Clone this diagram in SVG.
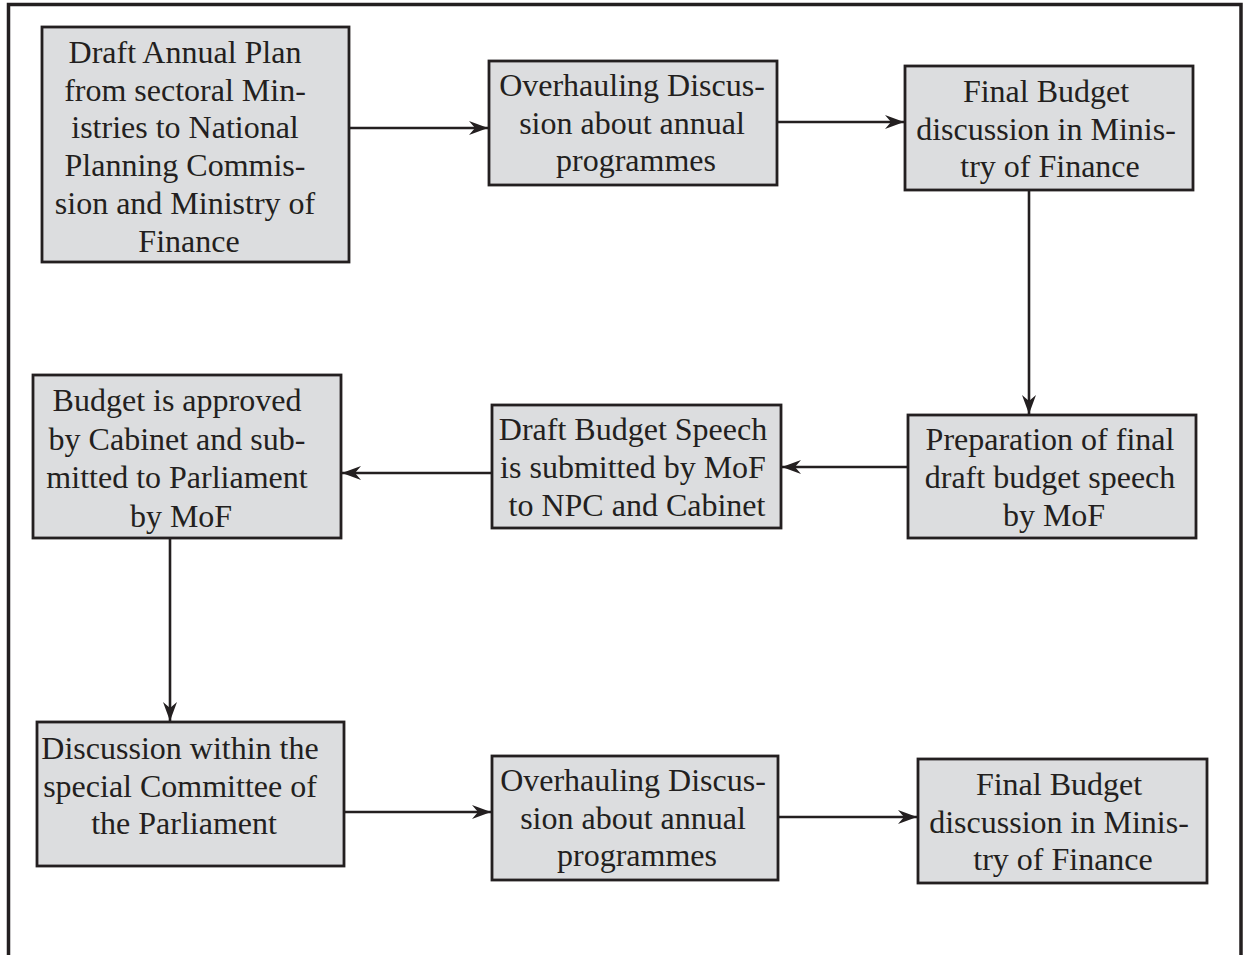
<svg xmlns="http://www.w3.org/2000/svg" width="1243" height="955" viewBox="0 0 1243 955">
  <style>
    .box { fill: #dcdddf; stroke: #231f20; stroke-width: 2.8; }
    .lbl { font-family: "Liberation Serif", "Times New Roman", serif; font-size: 32px; fill: #231f20; text-anchor: middle; }
    .edge { fill: none; stroke: #231f20; stroke-width: 2.6; marker-end: url(#arrow); }
  </style>
  <defs>
    <marker id="arrow" markerUnits="userSpaceOnUse" markerWidth="22" markerHeight="18" viewBox="-20 -9 22 18" refX="0" refY="0" orient="auto">
      <path d="M0,0 L-19,-7 L-13,0 L-19,7 Z" fill="#231f20"/>
    </marker>
  </defs>

  <rect width="1243" height="955" fill="#ffffff"/>
  <!-- outer frame, open at the bottom -->
  <path d="M8.5,955 V4.5 H1241 V955" fill="none" stroke="#231f20" stroke-width="3.5"/>

  <g id="connectors">
    <path class="edge" d="M349,128 H488"/>
    <path class="edge" d="M777,122 H904"/>
    <path class="edge" d="M1029,190 V414"/>
    <path class="edge" d="M908,467 H782"/>
    <path class="edge" d="M492,473 H342"/>
    <path class="edge" d="M170,538 V721"/>
    <path class="edge" d="M344,812 H491"/>
    <path class="edge" d="M778,817 H917"/>
  </g>

  <g id="draft-annual-plan">
    <rect class="box" x="42" y="27" width="307" height="235"/>
    <text class="lbl">
      <tspan x="189" y="63">Draft Annual Plan</tspan>
      <tspan x="189" y="101">from sectoral Min-</tspan>
      <tspan x="189" y="138">istries to National</tspan>
      <tspan x="189" y="176">Planning Commis-</tspan>
      <tspan x="189" y="214">sion and Ministry of</tspan>
      <tspan x="189" y="252">Finance</tspan>
    </text>
  </g>

  <g id="overhauling-1">
    <rect class="box" x="489" y="61" width="288" height="124"/>
    <text class="lbl">
      <tspan x="636" y="96">Overhauling Discus-</tspan>
      <tspan x="636" y="134">sion about annual</tspan>
      <tspan x="636" y="171">programmes</tspan>
    </text>
  </g>

  <g id="final-budget-1">
    <rect class="box" x="905" y="66" width="288" height="124"/>
    <text class="lbl">
      <tspan x="1050" y="102">Final Budget</tspan>
      <tspan x="1050" y="140">discussion in Minis-</tspan>
      <tspan x="1050" y="177">try of Finance</tspan>
    </text>
  </g>

  <g id="preparation">
    <rect class="box" x="908" y="415" width="288" height="123"/>
    <text class="lbl">
      <tspan x="1054" y="450">Preparation of final</tspan>
      <tspan x="1054" y="488">draft budget speech</tspan>
      <tspan x="1054" y="526">by MoF</tspan>
    </text>
  </g>

  <g id="draft-speech">
    <rect class="box" x="492" y="405" width="289" height="123"/>
    <text class="lbl">
      <tspan x="637" y="440">Draft Budget Speech</tspan>
      <tspan x="637" y="478">is submitted by MoF</tspan>
      <tspan x="637" y="516">to NPC and Cabinet</tspan>
    </text>
  </g>

  <g id="cabinet-approval">
    <rect class="box" x="33" y="375" width="308" height="163"/>
    <text class="lbl">
      <tspan x="181" y="411">Budget is approved</tspan>
      <tspan x="181" y="450">by Cabinet and sub-</tspan>
      <tspan x="181" y="488">mitted to Parliament</tspan>
      <tspan x="181" y="527">by MoF</tspan>
    </text>
  </g>

  <g id="special-committee">
    <rect class="box" x="37" y="722" width="307" height="144"/>
    <text class="lbl">
      <tspan x="184" y="759">Discussion within the</tspan>
      <tspan x="184" y="797">special Committee of</tspan>
      <tspan x="184" y="834">the Parliament</tspan>
    </text>
  </g>

  <g id="overhauling-2">
    <rect class="box" x="492" y="756" width="286" height="124"/>
    <text class="lbl">
      <tspan x="637" y="791">Overhauling Discus-</tspan>
      <tspan x="637" y="829">sion about annual</tspan>
      <tspan x="637" y="866">programmes</tspan>
    </text>
  </g>

  <g id="final-budget-2">
    <rect class="box" x="918" y="759" width="289" height="124"/>
    <text class="lbl">
      <tspan x="1063" y="795">Final Budget</tspan>
      <tspan x="1063" y="833">discussion in Minis-</tspan>
      <tspan x="1063" y="870">try of Finance</tspan>
    </text>
  </g>
</svg>
